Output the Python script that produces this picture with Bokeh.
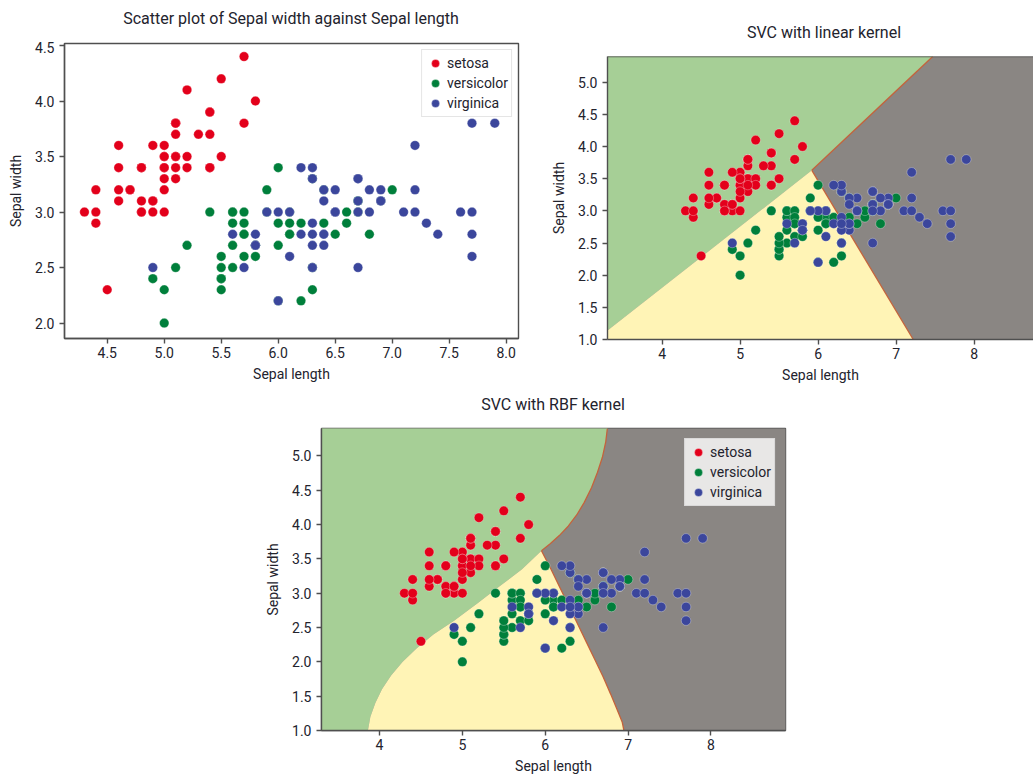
from bokeh.plotting import figure
from bokeh.layouts import column, row
from bokeh.models import (Spacer, Legend, LegendItem, Span, FixedTicker, Div,
                          NumeralTickFormatter, Range1d)
from bokeh.embed import file_html
from bokeh.resources import INLINE

FONT = "Roboto"

# ---------------- data (iris: sepal length / sepal width) ----------------
species = ["setosa", "versicolor", "virginica"]

setosa_length = [5.1, 4.9, 4.7, 4.6, 5.0, 5.4, 4.6, 5.0, 4.4, 4.9, 5.4, 4.8, 4.8, 4.3, 5.8,
                 5.7, 5.4, 5.1, 5.7, 5.1, 5.4, 5.1, 4.6, 5.1, 4.8, 5.0, 5.0, 5.2, 5.2, 4.7,
                 4.8, 5.4, 5.2, 5.5, 4.9, 5.0, 5.5, 4.9, 4.4, 5.1, 5.0, 4.5, 4.4, 5.0, 5.1,
                 4.8, 5.1, 4.6, 5.3, 5.0]
setosa_width = [3.5, 3.0, 3.2, 3.1, 3.6, 3.9, 3.4, 3.4, 2.9, 3.1, 3.7, 3.4, 3.0, 3.0, 4.0,
                4.4, 3.9, 3.5, 3.8, 3.8, 3.4, 3.7, 3.6, 3.3, 3.4, 3.0, 3.4, 3.5, 3.4, 3.2,
                3.1, 3.4, 4.1, 4.2, 3.1, 3.2, 3.5, 3.6, 3.0, 3.4, 3.5, 2.3, 3.2, 3.5, 3.8,
                3.0, 3.8, 3.2, 3.7, 3.3]
versicolor_length = [7.0, 6.4, 6.9, 5.5, 6.5, 5.7, 6.3, 4.9, 6.6, 5.2, 5.0, 5.9, 6.0, 6.1, 5.6,
                     6.7, 5.6, 5.8, 6.2, 5.6, 5.9, 6.1, 6.3, 6.1, 6.4, 6.6, 6.8, 6.7, 6.0, 5.7,
                     5.5, 5.5, 5.8, 6.0, 5.4, 6.0, 6.7, 6.3, 5.6, 5.5, 5.5, 6.1, 5.8, 5.0, 5.6,
                     5.7, 5.7, 6.2, 5.1, 5.7]
versicolor_width = [3.2, 3.2, 3.1, 2.3, 2.8, 2.8, 3.3, 2.4, 2.9, 2.7, 2.0, 3.0, 2.2, 2.9, 2.9,
                    3.1, 3.0, 2.7, 2.2, 2.5, 3.2, 2.8, 2.5, 2.8, 2.9, 3.0, 2.8, 3.0, 2.9, 2.6,
                    2.4, 2.4, 2.7, 2.7, 3.0, 3.4, 3.1, 2.3, 3.0, 2.5, 2.6, 3.0, 2.6, 2.3, 2.7,
                    3.0, 2.9, 2.9, 2.5, 2.8]
virginica_length = [6.3, 5.8, 7.1, 6.3, 6.5, 7.6, 4.9, 7.3, 6.7, 7.2, 6.5, 6.4, 6.8, 5.7, 5.8,
                    6.4, 6.5, 7.7, 7.7, 6.0, 6.9, 5.6, 7.7, 6.3, 6.7, 7.2, 6.2, 6.1, 6.4, 7.2,
                    7.4, 7.9, 6.4, 6.3, 6.1, 7.7, 6.3, 6.4, 6.0, 6.9, 6.7, 6.9, 5.8, 6.8, 6.7,
                    6.7, 6.3, 6.5, 6.2, 5.9]
virginica_width = [3.3, 2.7, 3.0, 2.9, 3.0, 3.0, 2.5, 2.9, 2.5, 3.6, 3.2, 2.7, 3.0, 2.5, 2.8,
                   3.2, 3.0, 3.8, 2.6, 2.2, 3.2, 2.8, 2.8, 2.7, 3.3, 3.2, 2.8, 3.0, 2.8, 3.0,
                   2.8, 3.8, 2.8, 2.8, 2.6, 3.0, 3.4, 3.1, 3.0, 3.1, 3.1, 3.1, 2.7, 3.2, 3.3,
                   3.0, 2.5, 3.0, 3.4, 3.0]

# tick values
scatter_xticks = [4.5, 5.0, 5.5, 6.0, 6.5, 7.0, 7.5, 8.0]
scatter_yticks = [2.0, 2.5, 3.0, 3.5, 4.0, 4.5]
svc_xticks = [4, 5, 6, 7, 8]
svc_yticks = [1.0, 1.5, 2.0, 2.5, 3.0, 3.5, 4.0, 4.5, 5.0]

# titles
titles = ["Scatter plot of Sepal width against Sepal length",
          "SVC with linear kernel",
          "SVC with RBF kernel"]

# decision boundaries (sepal length x, sepal width y)
# linear kernel
lin_sv_x = [3.3, 5.92]     # setosa | versicolor
lin_sv_y = [1.14, 3.63]
lin_vg_x = [5.92, 7.22]    # versicolor | virginica
lin_vg_y = [3.63, 1.0]
lin_sg_x = [5.92, 7.47]    # setosa | virginica
lin_sg_y = [3.63, 5.4]
# RBF kernel
rbf_sv_x = [3.86, 3.89, 3.95, 4.03, 4.14, 4.28, 4.45, 4.65, 4.90, 5.18, 5.45, 5.72, 5.955]
rbf_sv_y = [1.0, 1.2, 1.4, 1.6, 1.8, 2.0, 2.2, 2.4, 2.6, 2.85, 3.1, 3.35, 3.62]
rbf_vg_x = [5.955, 6.07, 6.19, 6.30, 6.40, 6.50, 6.60, 6.70, 6.79, 6.87, 6.93, 6.95]
rbf_vg_y = [3.62, 3.35, 3.05, 2.78, 2.53, 2.28, 2.03, 1.78, 1.53, 1.30, 1.12, 1.0]
rbf_sg_x = [5.955, 6.06, 6.17, 6.28, 6.38, 6.47, 6.56, 6.63, 6.69, 6.73, 6.75]
rbf_sg_y = [3.62, 3.72, 3.84, 3.98, 4.14, 4.32, 4.54, 4.76, 4.98, 5.20, 5.40]

# ---------------- styles ----------------
point_colors = ["#e3001b", "#007f3b", "#3b469c"]
region_green = "#a6cf96"
region_yellow = "#fff4b6"
region_gray = "#8a8683"
edge_color = "#c4633c"
spine_color = "#4f4f4f"
text_color = "#23232d"
LABEL_SIZE = "14px"

series = [(setosa_length, setosa_width), (versicolor_length, versicolor_width),
          (virginica_length, virginica_width)]


def title_div(text, width, height, pad_left, pad_top):
    html = ('<div style="width:%dpx;height:%dpx;box-sizing:border-box;padding-left:%dpx;'
            'padding-top:%spx;text-align:center;font-family:Roboto;font-size:16px;'
            'line-height:20px;color:%s;white-space:nowrap;margin:0;">%s</div>'
            % (width, height, pad_left, pad_top, text_color, text))
    return Div(text=html, width=width, height=height, margin=0)


def make_fig(xr, yr, fw, fh, bl, br, bt, bb, xticks, yticks, xfmt, yfmt):
    p = figure(x_range=Range1d(*xr), y_range=Range1d(*yr), frame_width=fw, frame_height=fh,
               min_border_left=bl, min_border_right=br, min_border_top=bt, min_border_bottom=bb,
               output_backend="svg", toolbar_location=None)
    p.xgrid.visible = False
    p.ygrid.visible = False
    p.background_fill_color = "white"
    p.border_fill_color = "white"
    p.outline_line_color = spine_color
    p.outline_line_width = 1.4
    p.xaxis.ticker = FixedTicker(ticks=xticks)
    p.yaxis.ticker = FixedTicker(ticks=yticks)
    p.xaxis.formatter = NumeralTickFormatter(format=xfmt)
    p.yaxis.formatter = NumeralTickFormatter(format=yfmt)
    p.xaxis.axis_label = "Sepal length"
    p.yaxis.axis_label = "Sepal width"
    for ax in (p.xaxis, p.yaxis):
        ax.axis_line_color = spine_color
        ax.axis_line_width = 1.4
        ax.major_tick_line_color = spine_color
        ax.major_tick_line_width = 1.4
        ax.major_tick_out = 5
        ax.major_tick_in = 0
        ax.minor_tick_line_color = None
        ax.major_label_text_font = FONT
        ax.major_label_text_font_size = LABEL_SIZE
        ax.major_label_text_color = text_color
        ax.axis_label_text_font = FONT
        ax.axis_label_text_font_size = LABEL_SIZE
        ax.axis_label_text_font_style = "normal"
        ax.axis_label_text_color = text_color
    p.xaxis.major_label_standoff = 3
    p.xaxis.axis_label_standoff = 5
    p.yaxis.major_label_standoff = 5
    p.yaxis.axis_label_standoff = 8
    return p


def add_points(p):
    rs = []
    for (xs, ys), c in zip(series, point_colors):
        rs.append(p.scatter(xs, ys, size=9.5, fill_color=c, line_color="white",
                            line_width=0.5, line_alpha=0.6))
    return rs


def add_legend(p, rs, margin):
    leg = Legend(items=[LegendItem(label=s, renderers=[r]) for s, r in zip(species, rs)],
                 location="top_right")
    leg.label_text_font = FONT
    leg.label_text_font_size = LABEL_SIZE
    leg.label_text_color = text_color
    leg.glyph_width = 20
    leg.glyph_height = 20
    leg.label_height = 20
    leg.spacing = 0
    leg.padding = 3
    leg.label_standoff = 2
    leg.margin = margin
    leg.border_line_color = "#cccccc"
    leg.border_line_width = 1
    leg.background_fill_color = "white"
    leg.background_fill_alpha = 0.8
    p.add_layout(leg)


def add_regions(p, xr, yr, sv_x, sv_y, vg_x, vg_y, sg_x, sg_y):
    x0, x1 = xr
    y0, y1 = yr
    pad = 0.5
    # virginica region everywhere, then setosa and versicolor on top
    p.patch([x0 - pad, x1 + pad, x1 + pad, x0 - pad], [y0 - pad, y0 - pad, y1 + pad, y1 + pad],
            fill_color=region_gray, line_color=None)
    gx = [x0 - pad, sv_x[0]] + list(sv_x) + list(sg_x[1:]) + [sg_x[-1], x0 - pad]
    gy = [sv_y[0] - pad, sv_y[0] - pad] + list(sv_y) + list(sg_y[1:]) + [y1 + pad, y1 + pad]
    p.patch(gx, gy, fill_color=region_green, line_color=None)
    yx = [sv_x[0], sv_x[0]] + list(sv_x) + list(vg_x[1:]) + [vg_x[-1]]
    yy = [y0 - pad, sv_y[0]] + list(sv_y) + list(vg_y[1:]) + [y0 - pad]
    p.patch(yx, yy, fill_color=region_yellow, line_color=None)
    p.line(vg_x, vg_y, line_color=edge_color, line_width=1.3)
    p.line(sg_x, sg_y, line_color=edge_color, line_width=1.3)


# ---------------- panel 1: scatter ----------------
p1_xr = (4.125, 8.108)
p1_yr = (1.861, 4.518)
p1 = make_fig(p1_xr, p1_yr, 454, 295, 64, 15, 2, 47,
              scatter_xticks, scatter_yticks, "0.0", "0.0")
r1 = add_points(p1)
add_legend(p1, r1, 6)

# ---------------- panel 2: linear kernel ----------------
p2_xr = (3.3, 8.762)
p2_yr = (1.0, 5.4)
p2 = make_fig(p2_xr, p2_yr, 426, 283, 74, 0, 2, 46,
              svc_xticks, svc_yticks, "0", "0.0")
add_regions(p2, (3.3, 8.9), p2_yr, lin_sv_x, lin_sv_y, lin_vg_x, lin_vg_y, lin_sg_x, lin_sg_y)
add_points(p2)
p2.outline_line_color = None
p2.add_layout(Span(location=5.4, dimension="width", line_color=spine_color, line_width=1.4))

# ---------------- panel 3: RBF kernel ----------------
p3_xr = (3.3, 8.9)
p3_yr = (1.0, 5.4)
p3 = make_fig(p3_xr, p3_yr, 464, 302, 61, 20, 2, 47,
              svc_xticks, svc_yticks, "0", "0.0")
add_regions(p3, p3_xr, p3_yr, rbf_sv_x, rbf_sv_y, rbf_vg_x, rbf_vg_y, rbf_sg_x, rbf_sg_y)
r3 = add_points(p3)
add_legend(p3, r3, 10)

col1 = column(title_div(titles[0], 533, 41, 49, 9), p1, spacing=0)
col2 = column(title_div(titles[1], 500, 54, 82, 23), p2, spacing=0)
col3 = column(title_div(titles[2], 545, 41, 41, 9.5), p3, spacing=0)

top_row = row(col1, col2, spacing=0)
bottom_row = row(Spacer(width=260, height=392), col3, spacing=0)
layout = column(top_row, bottom_row, spacing=0)

open("out.html", "w").write(file_html(layout, INLINE))
